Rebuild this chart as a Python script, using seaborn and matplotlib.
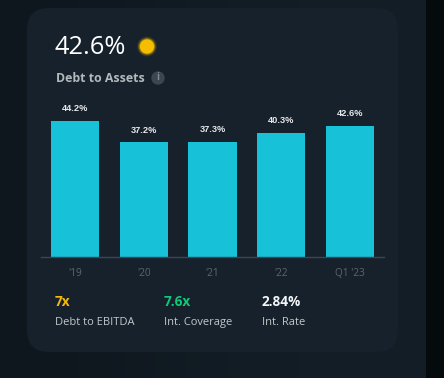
# -*- coding: utf-8 -*-
import numpy as np
import pandas as pd
import matplotlib
matplotlib.use('Agg')
import matplotlib.pyplot as plt
from matplotlib.colors import LinearSegmentedColormap
from matplotlib.patches import FancyBboxPatch, Circle, Rectangle
import seaborn as sns

# Chart data
periods = ["'19", "'20", "'21", "'22", "Q1 '23"]
debt_to_assets = [44.2, 37.2, 37.3, 40.3, 42.6]
headline = "42.6%"
title = "Debt to Assets"
stat_values = ["7x", "7.6x", "2.84%"]
stat_labels = ["Debt to EBITDA", "Int. Coverage", "Int. Rate"]

W, H = 444, 378
sns.set_theme(style="white")
plt.rcParams['font.family'] = ['Open Sans', 'DejaVu Sans']

fig = plt.figure(figsize=(W/100, H/100), dpi=100, facecolor='#111b23')

# Page background and card, in pixel coordinates
bg = fig.add_axes([0, 0, 1, 1], zorder=0)
shade = np.array([[0, 0.35, 0.8, 1, 1]])
bg.imshow(shade, extent=(0, 426, H, 0), aspect='auto',
          cmap=LinearSegmentedColormap.from_list('p', ['#0f171e', '#121d25']),
          vmin=0, vmax=1, interpolation='bilinear')
bg.set_xlim(0, W)
bg.set_ylim(H, 0)
bg.axis('off')
bg.add_patch(Rectangle((426, 0), 18, H, fc='#050a0d', ec='none'))
bg.add_patch(FancyBboxPatch((27, 8), 371, 344, boxstyle="round,pad=0,rounding_size=22",
                            fc='#16212c', ec='none'))

# Bars
px_per_unit = 3.066
base_y, top_y = 256.5, 100
ax = fig.add_axes([41/W, 1-base_y/H, 343/W, (base_y-top_y)/H], zorder=2)
ax.patch.set_alpha(0)
df = pd.DataFrame({'period': periods, 'value': debt_to_assets})
sns.barplot(data=df, x='period', y='value', color='#17c1d8', saturation=1, width=0.7,
            linewidth=0, ax=ax)
ax.set_xlim(-0.5, 4.5)
ax.set_ylim(0, (base_y-top_y)/px_per_unit)
ax.set_xlabel('')
ax.set_ylabel('')
ax.set_yticks([])
sns.despine(ax=ax, left=True)
ax.spines['bottom'].set_color('#3b4650')
ax.spines['bottom'].set_linewidth(1)
ax.tick_params(axis='x', length=0, pad=8.5, labelsize=7.2, labelcolor='#5f666c')
ax.bar_label(ax.containers[0], labels=['%.1f%%' % v for v in debt_to_assets], padding=5.5,
             fontsize=6.7, fontweight='bold', color='#e6e8ea', family=['Liberation Sans'])

# Header and stats
over = fig.add_axes([0, 0, 1, 1], zorder=3)
over.set_xlim(0, W)
over.set_ylim(H, 0)
over.axis('off')
over.text(54.5, 54, headline, fontsize=18.4, color='white', va='baseline', ha='left')
for r, a in [(10, 0.12), (9, 0.22), (8.2, 0.45)]:
    over.add_patch(Circle((147, 46.5), r, fc='#d9a400', ec='none', alpha=a))
over.add_patch(Circle((147, 46.5), 7.2, fc='#f5bd00', ec='none'))
over.text(55.5, 82.5, title, fontsize=8.9, fontweight='bold', color='#b3b8bc', va='baseline', ha='left')
over.add_patch(Circle((158, 78), 6.7, fc='#3a4651', ec='none'))
over.text(158, 78, 'i', fontsize=7, fontweight='bold', color='#7f8990', va='center', ha='center')

stat_x = [55, 164, 261.5]
stat_colors = ['#f2b90d', '#0fc878', '#f4f5f6']
for x, v, l, c in zip(stat_x, stat_values, stat_labels, stat_colors):
    over.text(x, 306, v, fontsize=9.8, fontweight='bold', color=c, va='baseline', ha='left')
    over.text(x, 325, l, fontsize=8, color='#c3c7ca', va='baseline', ha='left')

fig.savefig('out.png', dpi=100, facecolor=fig.get_facecolor())
